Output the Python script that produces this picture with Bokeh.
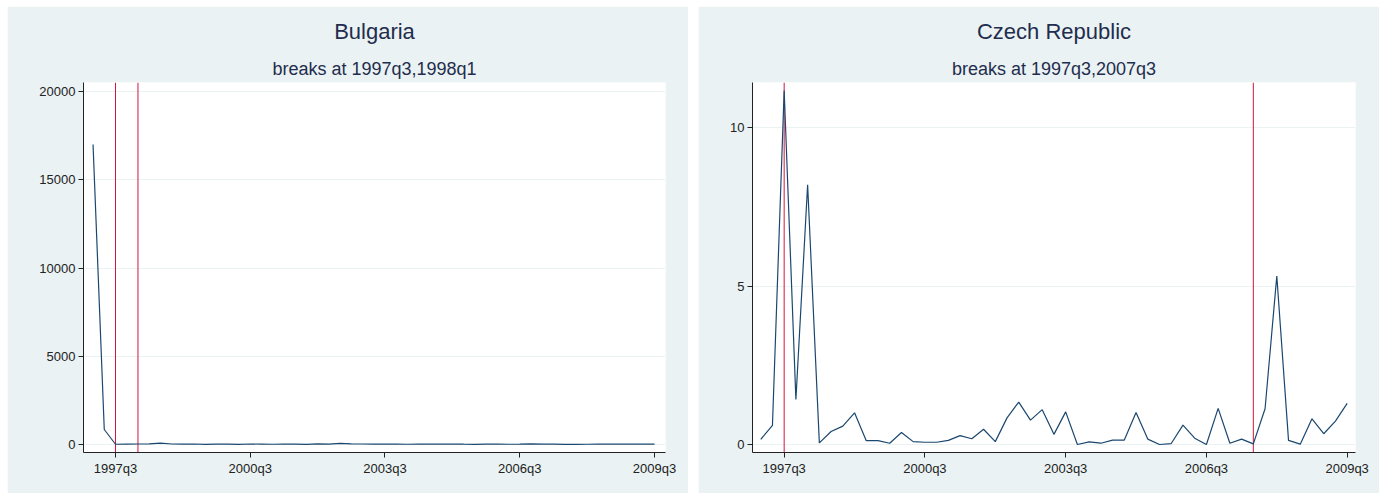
from bokeh.plotting import figure
from bokeh.models import FixedTicker, Title
from bokeh.layouts import row
from bokeh.embed import file_html
from bokeh.resources import INLINE

# Stata %tq periods: 148 = 1997q1 ... 198 = 2009q3
periods = list(range(148, 199))

tick_pos = [150, 162, 174, 186, 198]
tick_labels = ["1997q3", "2000q3", "2003q3", "2006q3", "2009q3"]

bulgaria = [17000, 850, 15, 22, 28, 35, 80, 30, 22, 28,
            12, 25, 18, 10, 30, 22, 15, 28, 20, 12,
            35, 20, 60, 38, 30, 25, 18, 22, 15, 30,
            25, 20, 28, 18, 12, 20, 25, 15, 22, 35,
            18, 25, 12, 10, 15, 20, 18, 25, 30, 22,
            20]
bulgaria_breaks = [150, 152]
bulgaria_yticks = [0, 5000, 10000, 15000, 20000]

czech = [0.16, 0.6, 11.18, 1.42, 8.2, 0.05, 0.41, 0.58, 1.0, 0.12,
         0.12, 0.04, 0.38, 0.09, 0.07, 0.07, 0.13, 0.28, 0.18, 0.48,
         0.09, 0.84, 1.34, 0.77, 1.1, 0.32, 1.03, 0.0, 0.08, 0.04,
         0.14, 0.14, 1.01, 0.17, 0.0, 0.03, 0.61, 0.2, 0.0, 1.14,
         0.04, 0.17, 0.02, 1.13, 5.32, 0.13, 0.01, 0.81, 0.34, 0.74,
         1.3]
czech_breaks = [150, 190]
czech_yticks = [0, 5, 10]

BG = "#eaf2f3"
NAVY = "#1a476f"
RED = "#d6153f"
TXT = "#1f2d4e"
FONT = "Liberation Sans"


def panel(name, subtitle, values, breaks, yticks, x_range, y_range, border_left, border_right):
    p = figure(width=681, height=487, x_range=x_range, y_range=y_range,
               output_backend="svg", toolbar_location=None, title=None,
               min_border_left=border_left, min_border_right=border_right,
               min_border_top=76, min_border_bottom=41)
    p.border_fill_color = BG
    p.background_fill_color = "white"
    p.outline_line_color = None

    # subtitle first (closest to the frame), then the main title
    p.add_layout(Title(text=subtitle, align="center", text_font=FONT,
                       text_font_size="18px", text_font_style="normal",
                       text_color=TXT, standoff=8), "above")
    p.add_layout(Title(text=name, align="center", text_font=FONT,
                       text_font_size="22px", text_font_style="normal",
                       text_color=TXT, standoff=18), "above")

    p.xgrid.grid_line_color = None
    p.ygrid.grid_line_color = BG
    p.ygrid.grid_line_width = 1.2
    p.ygrid.ticker = FixedTicker(ticks=yticks)

    # break dates as vertical lines spanning the whole y range
    for b in breaks:
        p.line([b, b], [y_range[0], y_range[1]], line_color=RED, line_width=1)
    p.line(periods, values, line_color=NAVY, line_width=1.2)

    p.xaxis.ticker = FixedTicker(ticks=tick_pos)
    p.xaxis.major_label_overrides = dict(zip(tick_pos, tick_labels))
    p.yaxis.ticker = FixedTicker(ticks=yticks)

    for ax in (p.xaxis[0], p.yaxis[0]):
        ax.axis_line_color = "#222222"
        ax.major_tick_line_color = "#222222"
        ax.major_tick_out = 5
        ax.major_tick_in = 0
        ax.minor_tick_line_color = None
        ax.major_label_text_font = FONT
        ax.major_label_text_font_size = "13px"
        ax.major_label_text_color = "#222222"
        ax.major_label_standoff = 3
    return p


p1 = panel("Bulgaria", "breaks at 1997q3,1998q1", bulgaria, bulgaria_breaks,
           bulgaria_yticks, (147.15, 198.98), (-453, 20510), 76, 23)
p2 = panel("Czech Republic", "breaks at 1997q3,2007q3", czech, czech_breaks,
           czech_yticks, (147.3, 198.71), (-0.253, 11.43), 54, 24)

layout = row(p1, p2, spacing=10, margin=(6, 0, 0, 7))
open("out.html", "w").write(file_html(layout, INLINE))
